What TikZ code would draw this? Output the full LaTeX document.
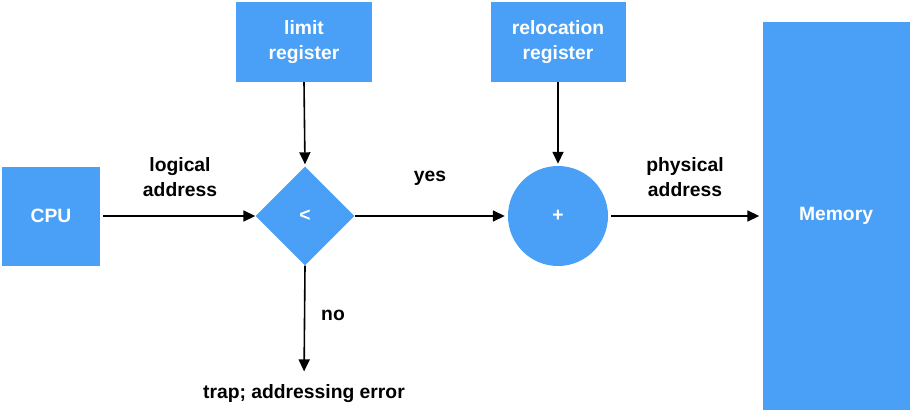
\documentclass[tikz,border=0pt]{standalone}
\usepackage{fontspec}
\setmainfont{Liberation Sans}
\usetikzlibrary{arrows.meta,shapes.geometric}

\definecolor{boxblue}{RGB}{74,160,246}
\newcommand{\figfont}{\fontsize{19.3}{24.5}\selectfont\bfseries}

\tikzset{
  blk/.style={fill=boxblue,text=white,font=\figfont,align=center,inner sep=0pt},
  lbl/.style={font=\figfont,align=center},
  arr/.style={line width=1.6pt,-{Triangle[length=12pt,width=11pt]}}
}

\begin{document}
\begin{tikzpicture}[x=1pt,y=-1pt]
\useasboundingbox (0,0) rectangle (913,412);

\node[blk,minimum width=98pt,minimum height=99pt] (cpu) at (51,216) {CPU};
\node[blk,minimum width=136pt,minimum height=80pt] (limit) at (304,42) {limit\\register};
\node[blk,diamond,minimum width=99pt,minimum height=99pt] (cmp) at (305,216) {<};
\node[blk,minimum width=135pt,minimum height=80pt] (reloc) at (558,42) {relocation\\register};
\node[blk,circle,minimum size=100pt] (add) at (558,216) {+};
\node[blk,minimum width=147pt,minimum height=388pt] (mem) at (836,216) {Memory};

\node[lbl] (logical) at (180,177) {logical\\address};
\node[lbl] (yes) at (430,178) {yes};
\node[lbl] (physical) at (685,177) {physical\\address};
\node[lbl] (no) at (333,315) {no};
\node[lbl] (trap) at (304,394) {trap; addressing error};

\draw[arr,shorten <=3pt] (cpu.east) -- (cmp.west);
\draw[arr,shorten >=2pt] (limit.south) -- (cmp.north);
\draw[arr,shorten >=3pt] (cmp.east) -- (add.west);
\draw[arr,shorten >=2pt] (reloc.south) -- (add.north);
\draw[arr,shorten <=3pt,shorten >=3pt] (add.east) -- (mem.west);
\draw[arr,shorten >=10pt] (cmp.south) -- (trap.north);
\end{tikzpicture}
\end{document}
